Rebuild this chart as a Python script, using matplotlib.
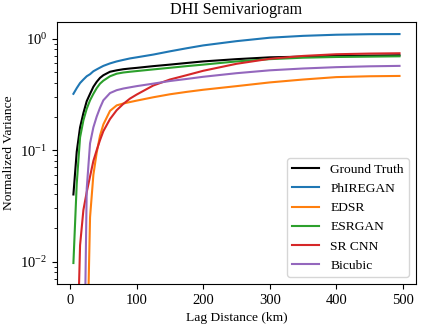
import numpy as np
import matplotlib
matplotlib.use('Agg')
import matplotlib.pyplot as plt

plt.rcParams['font.family'] = 'Liberation Serif'
plt.rcParams['font.size'] = 9.7
plt.rcParams['xtick.labelsize'] = 10.5
plt.rcParams['ytick.labelsize'] = 10.5
plt.rcParams['mathtext.fontset'] = 'stix'

lag = np.array([5, 10, 15, 20, 25, 30, 35, 40, 45, 50, 60, 70, 80, 90, 100,
                125, 150, 175, 200, 250, 300, 350, 400, 450, 495])

ground_truth = [0.040, 0.097, 0.16, 0.215, 0.275, 0.32, 0.37, 0.41, 0.445, 0.47, 0.505, 0.52, 0.532, 0.54, 0.547,
                0.567, 0.585, 0.605, 0.625, 0.655, 0.68, 0.69, 0.70, 0.705, 0.71]
phiregan = [0.32, 0.36, 0.40, 0.43, 0.46, 0.48, 0.51, 0.53, 0.55, 0.57, 0.60, 0.625, 0.645, 0.665, 0.68,
            0.72, 0.77, 0.82, 0.87, 0.95, 1.02, 1.06, 1.085, 1.097, 1.10]
edsr = [1e-4, 1e-4, 1e-4, 1e-4, 0.001, 0.025, 0.06, 0.095, 0.135, 0.17, 0.225, 0.252, 0.262, 0.27, 0.278,
        0.298, 0.317, 0.333, 0.348, 0.375, 0.405, 0.43, 0.452, 0.46, 0.463]
esrgan = [0.0097, 0.05, 0.13, 0.185, 0.235, 0.28, 0.32, 0.36, 0.395, 0.42, 0.46, 0.485, 0.497, 0.505, 0.512,
          0.53, 0.548, 0.567, 0.585, 0.625, 0.655, 0.675, 0.685, 0.69, 0.695]
srcnn = [1e-4, 0.001, 0.014, 0.029, 0.042, 0.058, 0.08, 0.10, 0.123, 0.148, 0.19, 0.228, 0.26, 0.29, 0.315,
         0.38, 0.43, 0.47, 0.515, 0.595, 0.66, 0.70, 0.725, 0.735, 0.74]
bicubic = [1e-4, 1e-4, 1e-4, 0.0003, 0.045, 0.115, 0.16, 0.20, 0.24, 0.28, 0.325, 0.345, 0.357, 0.366, 0.375,
           0.395, 0.417, 0.435, 0.455, 0.49, 0.52, 0.54, 0.555, 0.565, 0.57]

fig = plt.figure(figsize=(4.23, 3.29), dpi=100)
ax = fig.add_axes([0.135, 0.137, 0.848, 0.796])

ax.plot(lag, ground_truth, color='k', label='Ground Truth')
ax.plot(lag, phiregan, color='C0', label='PhIREGAN')
ax.plot(lag, edsr, color='C1', label='EDSR')
ax.plot(lag, esrgan, color='C2', label='ESRGAN')
ax.plot(lag, srcnn, color='C3', label='SR CNN')
ax.plot(lag, bicubic, color='C4', label='Bicubic')

ax.set_yscale('log')
ax.set_xlim(-19.5, 519.5)
ax.set_ylim(0.0063, 1.41)
ax.set_title('DHI Semivariogram')
ax.set_xlabel('Lag Distance (km)')
ax.set_ylabel('Normalized Variance')
ax.legend(loc='lower right')

fig.savefig('out.png')
